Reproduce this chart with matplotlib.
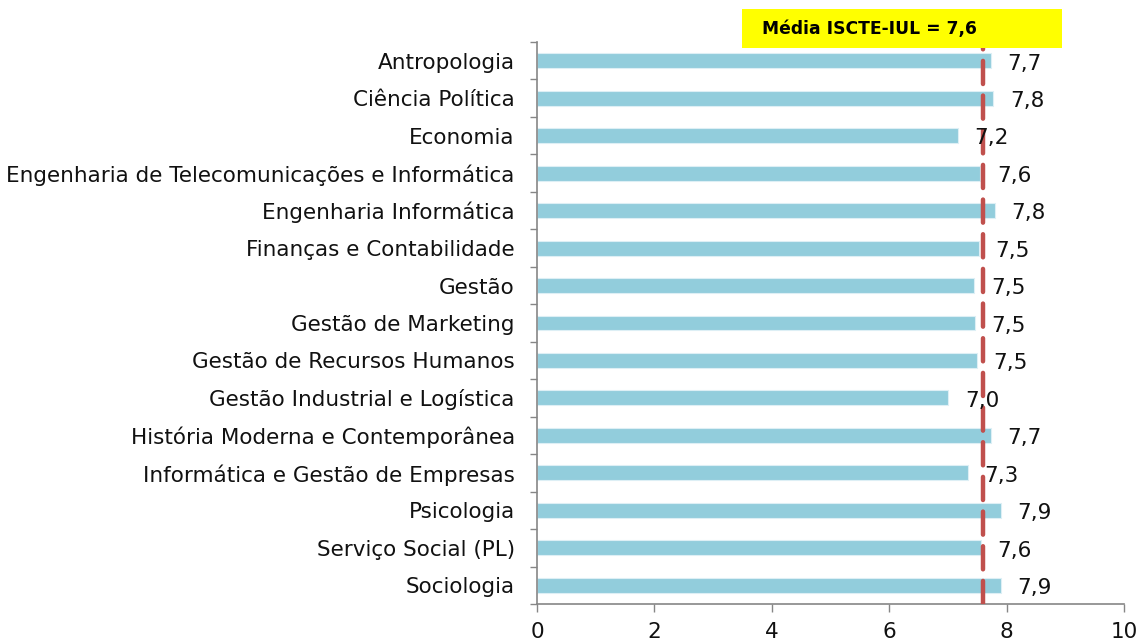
import matplotlib
matplotlib.use("Agg")
import matplotlib.pyplot as plt
from matplotlib.patches import Rectangle
from matplotlib.ticker import FixedLocator

categories = [
    "Antropologia",
    "Ciência Política",
    "Economia",
    "Engenharia de Telecomunicações e Informática",
    "Engenharia Informática",
    "Finanças e Contabilidade",
    "Gestão",
    "Gestão de Marketing",
    "Gestão de Recursos Humanos",
    "Gestão Industrial e Logística",
    "História Moderna e Contemporânea",
    "Informática e Gestão de Empresas",
    "Psicologia",
    "Serviço Social (PL)",
    "Sociologia",
]
values = [7.73, 7.77, 7.17, 7.55, 7.80, 7.53, 7.45, 7.46, 7.49, 7.01,
          7.73, 7.34, 7.90, 7.56, 7.90]
labels = ["7,7", "7,8", "7,2", "7,6", "7,8", "7,5", "7,5", "7,5", "7,5", "7,0",
          "7,7", "7,3", "7,9", "7,6", "7,9"]
mean_value = 7.6
mean_text = "Média ISCTE-IUL = 7,6"
xticks = [0, 2, 4, 6, 8, 10]

fig = plt.figure(figsize=(11.4, 6.42), dpi=100)
ax = fig.add_axes([537/1140, 1 - 604/642, (1124 - 537)/1140, (604 - 42)/642])

n = len(categories)
ypos = list(range(n))
ax.barh(ypos, values, height=0.4, color="#92CDDC", edgecolor="#DDEFF5",
        linewidth=0.8, zorder=2)
ax.set_ylim(n - 0.5, -0.5)
ax.set_xlim(0, 10)
ax.set_yticks(ypos)
ax.set_yticklabels(categories, fontsize=15.5, color="#111111")
ax.tick_params(axis="y", length=0, pad=16)
ax.yaxis.set_minor_locator(FixedLocator([i - 0.5 for i in range(n + 1)]))
ax.tick_params(axis="y", which="minor", length=5, color="#868686", width=1)
ax.set_xticks(xticks)
ax.set_xticklabels([str(t) for t in xticks], fontsize=15.5, color="#111111")
ax.tick_params(axis="x", length=6, color="#868686", width=1, pad=7)

for s in ["top", "right"]:
    ax.spines[s].set_visible(False)
for s in ["left", "bottom"]:
    ax.spines[s].set_color("#868686")
    ax.spines[s].set_linewidth(1.2)

for y, v, lab in zip(ypos, values, labels):
    ax.annotate(lab, (v, y), xytext=(12, -2), textcoords="offset points",
                va="center", ha="left", fontsize=15.5, color="#111111", zorder=4)

ax.axvline(mean_value, color="#C0504D", linewidth=3.2, linestyle=(0, (5.2, 2.6)),
           dash_capstyle="round", zorder=3)

fig.patches.append(Rectangle((742/1140, 1 - 48/642), (1062 - 742)/1140, 39/642,
                             transform=fig.transFigure, facecolor="#FFFF00",
                             edgecolor="none", zorder=5))
fig.text(762/1140, 1 - 29/642, mean_text, fontsize=12.3, fontweight="bold",
         va="center", ha="left", color="#000000", zorder=6)

fig.savefig("out.png", dpi=100)
